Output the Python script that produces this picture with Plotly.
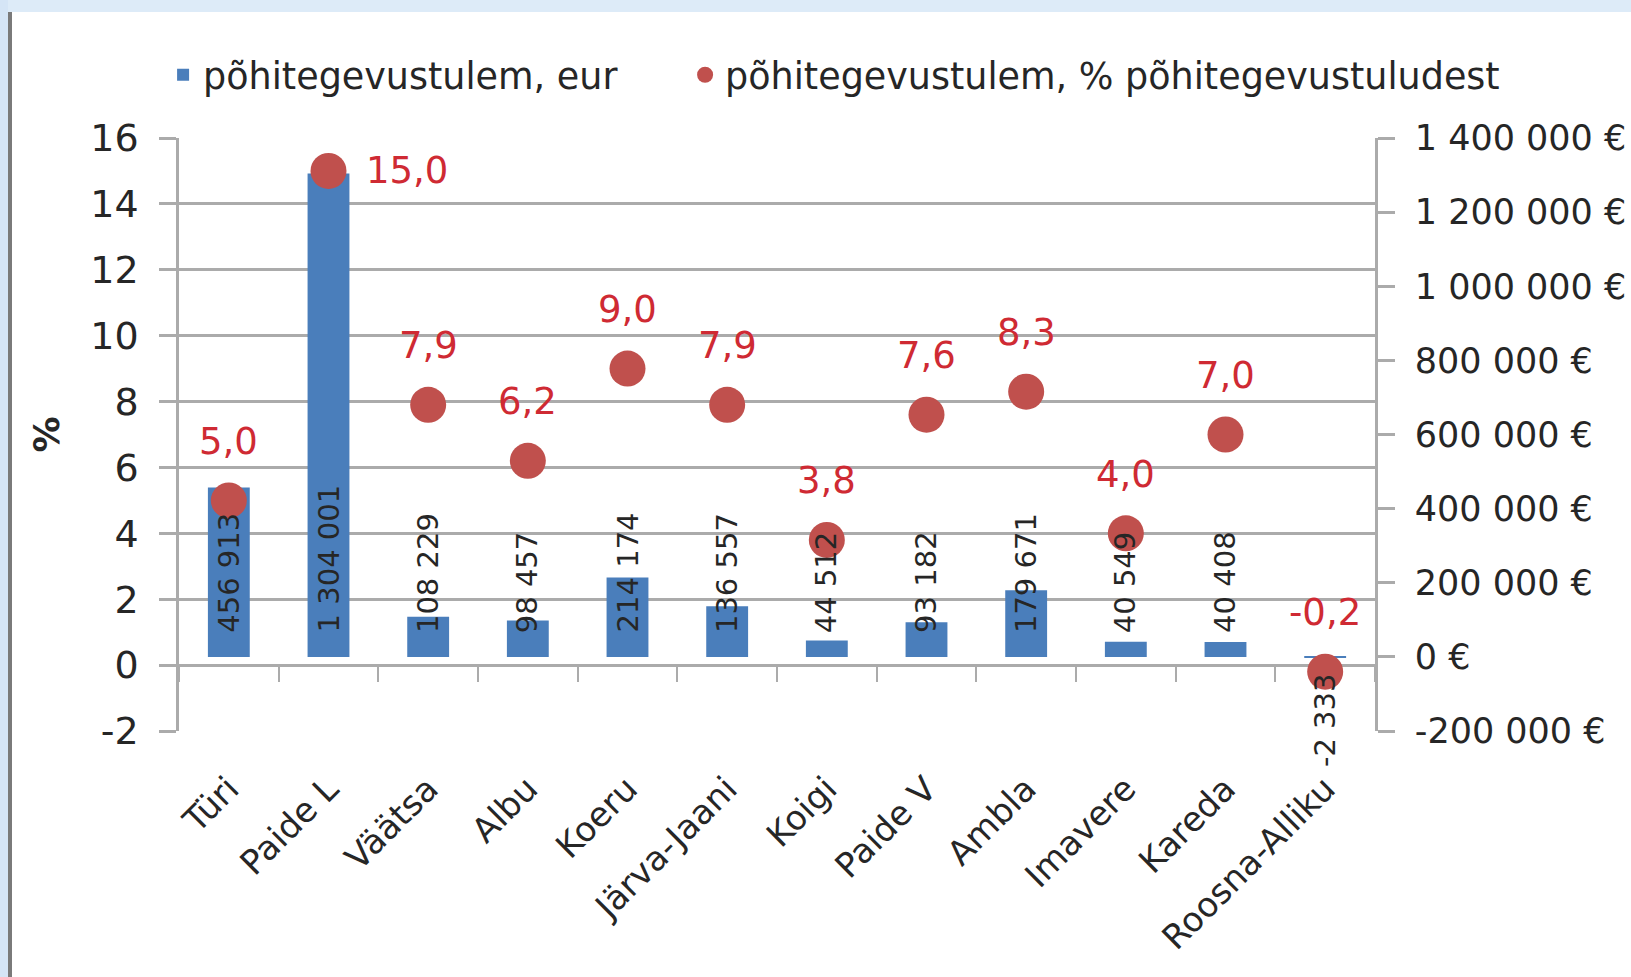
import plotly.graph_objects as go

categories = ["Türi", "Paide L", "Väätsa", "Albu", "Koeru", "Järva-Jaani", "Koigi",
              "Paide V", "Ambla", "Imavere", "Kareda", "Roosna-Alliku"]
tulem_eur = [456913, 1304001, 108229, 98457, 214174, 136557, 44512,
             93182, 179671, 40549, 40408, -2333]
tulem_pct = [5.0, 15.0, 7.9, 6.2, 9.0, 7.9, 3.8, 7.6, 8.3, 4.0, 7.0, -0.2]

pct_ticks = [-2, 0, 2, 4, 6, 8, 10, 12, 14, 16]
eur_ticks = [-200000, 0, 200000, 400000, 600000, 800000, 1000000, 1200000, 1400000]

name_eur = "põhitegevustulem, eur"
name_pct = "põhitegevustulem, % põhitegevustuludest"

FONT = "DejaVu Sans, sans-serif"
TXT = "#262626"
GRID = "#ABABAB"
BAR = "#4A7EBB"
DOT = "#C0504D"
LBL = "#CF2A33"


def fmt_int(v):
    return f"{v:,}".replace(",", " ")


def fmt_pct(v):
    return f"{v:.1f}".replace(".", ",")


fig = go.Figure()
fig.add_trace(go.Bar(
    x=categories, y=tulem_eur, name=name_eur, xaxis="x", yaxis="y",
    marker=dict(color=BAR, line=dict(width=0)), width=0.42, legendwidth=477,
))
fig.add_trace(go.Scatter(
    x=categories, y=tulem_pct, name=name_pct, mode="markers", xaxis="x2", yaxis="y2",
    marker=dict(color=DOT, size=36, line=dict(width=0)),
))

ann = []
for c, v in zip(categories, tulem_eur):
    ann.append(dict(
        x=c, y=0, xref="x", yref="y", text=fmt_int(v), textangle=-90,
        showarrow=False, yanchor="bottom" if v >= 0 else "top",
        yshift=22 if v >= 0 else -14,
        font=dict(family=FONT, size=29, color=TXT),
    ))
for c, v in zip(categories, tulem_pct):
    if v == max(tulem_pct):
        ann.append(dict(x=c, y=v, xref="x", yref="y2", text=fmt_pct(v), showarrow=False,
                        xshift=78, yshift=0, font=dict(family=FONT, size=37, color=LBL)))
    else:
        ann.append(dict(x=c, y=v, xref="x", yref="y2", text=fmt_pct(v), showarrow=False,
                        yshift=59, font=dict(family=FONT, size=37, color=LBL)))

L, R, T, B = 179, 1375, 138, 731
W, H = 1631, 977
pw, ph = R - L, B - T


def px_x(p):
    return (p - L) / pw


def px_y(p):
    return (B - p) / ph


shapes = [
    dict(type="rect", xref="paper", yref="paper", x0=px_x(0), x1=px_x(W), y0=px_y(12), y1=px_y(0),
         fillcolor="#DDEBF8", line=dict(width=0), layer="below"),
    dict(type="rect", xref="paper", yref="paper", x0=px_x(0), x1=px_x(8), y0=px_y(H), y1=px_y(0),
         fillcolor="#D5E5F6", line=dict(width=0), layer="below"),
    dict(type="rect", xref="paper", yref="paper", x0=px_x(8), x1=px_x(12), y0=px_y(H), y1=px_y(12),
         fillcolor="#7A7A7A", line=dict(width=0), layer="below"),
]

fig.update_layout(
    width=W, height=H,
    margin=dict(l=L, r=W - R, t=T, b=H - B, autoexpand=False),
    paper_bgcolor="white", plot_bgcolor="white",
    font=dict(family=FONT, size=34, color=TXT),
    showlegend=True,
    legend=dict(orientation="h", x=-0.0133, y=px_y(75), xanchor="left", yanchor="middle",
                font=dict(family=FONT, size=36.5, color=TXT), bgcolor="rgba(0,0,0,0)",
                itemsizing="trace"),
    xaxis=dict(type="category", categoryarray=categories, categoryorder="array",
               tickangle=-45, showgrid=False, showline=False, ticks="", zeroline=False,
               ticklabelstandoff=30, tickfont=dict(family=FONT, size=34, color=TXT),
               range=[-0.5, 11.5]),
    xaxis2=dict(type="category", categoryarray=categories, categoryorder="array",
                overlaying="x", matches="x", anchor="free", position=2 / 18,
                showticklabels=False, ticks="outside", tickson="boundaries", ticklen=16,
                tickwidth=2, tickcolor=GRID, showgrid=False, showline=False, zeroline=False),
    yaxis=dict(range=[-200000, 1400000], side="right", anchor="x",
               tickvals=eur_ticks, ticktext=[fmt_int(t) + " €" for t in eur_ticks],
               showgrid=False, zeroline=False, showline=True, linecolor=GRID, linewidth=2.5,
               ticks="outside", ticklen=17, tickwidth=2.5, tickcolor=GRID, ticklabelstandoff=13,
               tickfont=dict(family=FONT, size=35, color=TXT)),
    yaxis2=dict(range=[-2, 16], overlaying="y", side="left", anchor="x",
                tickvals=pct_ticks, ticktext=[str(t) for t in pct_ticks],
                showgrid=True, gridcolor=GRID, gridwidth=2.5, zeroline=False,
                showline=True, linecolor=GRID, linewidth=2.5, ticks="outside", ticklen=17,
                tickwidth=2.5, tickcolor=GRID, ticklabelstandoff=13,
                tickfont=dict(family=FONT, size=38, color=TXT),
                title=dict(text="<b>%</b>", standoff=20, font=dict(family=FONT, size=36, color=TXT))),
    annotations=ann,
    shapes=shapes,
)

fig.write_html("out.html", config={"displayModeBar": False},
               post_script="document.body.style.margin='0px';")
